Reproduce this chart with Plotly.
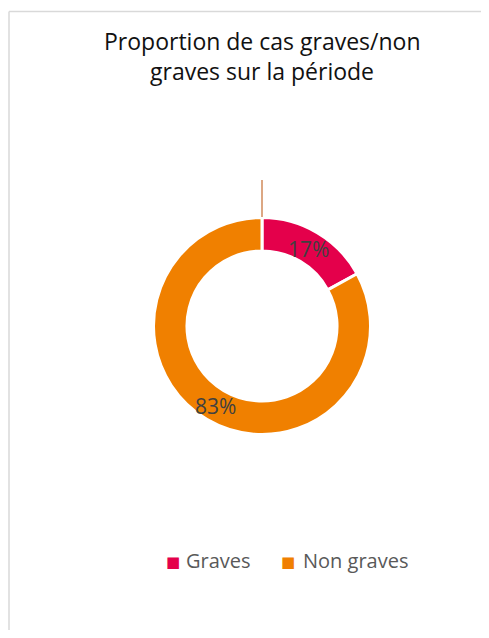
import math
import plotly.graph_objects as go

categories = ["Graves", "Non graves"]
values = [17, 83]
colors = ["#E4004B", "#F08000"]
title_lines = ["Proportion de cas graves/non", "graves sur la période"]

# page has an 8px body margin; figure sized to fit the window without scrollbars
OFF = 8
W, H = 489 - 2 * OFF, 638 - 2 * OFF


def px(x):
    return (x - OFF) / W


def py(y):
    return 1 - (y - OFF) / H


# donut geometry (page pixels)
CX, CY, R_OUT, R_IN = 262, 326, 107, 74
HOLE = R_IN / R_OUT

fig = go.Figure()
fig.add_trace(go.Pie(
    labels=categories,
    values=values,
    hole=HOLE,
    sort=False,
    direction="clockwise",
    rotation=0,
    marker=dict(colors=colors, line=dict(color="white", width=3)),
    textinfo="none",
    domain=dict(x=[px(CX - R_OUT - 1.5), px(CX + R_OUT + 1.5)],
                y=[py(CY + R_OUT + 1.5), py(CY - R_OUT - 1.5)]),
    hoverinfo="skip",
    showlegend=False,
))

# percentage labels at the middle of each slice (computed from the values)
total = sum(values)
annotations = []
cum = 0
r_mid = (R_OUT + R_IN) / 2 + 1
for v in values:
    mid = (cum + v / 2) / total * 2 * math.pi
    cum += v
    lx = CX + r_mid * math.sin(mid)
    ly = CY - r_mid * math.cos(mid) + 1.5
    annotations.append(dict(
        x=px(lx), y=py(ly), xref="paper", yref="paper", showarrow=False,
        text=f"{round(v / total * 100)}%", xanchor="center", yanchor="middle",
        font=dict(family="Open Sans", size=21, color="#404040"),
    ))

# title (two lines)
for line, yc in zip(title_lines, [41, 71]):
    annotations.append(dict(
        x=px(262), y=py(yc), xref="paper", yref="paper", showarrow=False,
        text=line, xanchor="center", yanchor="middle",
        font=dict(family="Open Sans", size=23, color="#111111"),
    ))

# legend: square swatch + label
swatch_x = [172.5, 287.5]
label_x = [183.5, 300.5]
for name, col, sx, tx in zip(categories, colors, swatch_x, label_x):
    annotations.append(dict(
        x=px(sx), y=py(561.5), xref="paper", yref="paper", showarrow=False,
        text="■", xanchor="center", yanchor="middle",
        font=dict(family="DejaVu Sans", size=15, color=col),
    ))
    annotations.append(dict(
        x=px(tx), y=py(560), xref="paper", yref="paper", showarrow=False,
        text=name, xanchor="left", yanchor="middle",
        font=dict(family="Open Sans", size=20, color="#595959"),
    ))

fig.update_layout(
    width=W, height=H,
    margin=dict(l=0, r=0, t=0, b=0),
    paper_bgcolor="white",
    showlegend=False,
    annotations=annotations,
    shapes=[
        dict(type="line", xref="paper", yref="paper", x0=px(9), x1=px(9), y0=0, y1=py(11.5),
             line=dict(color="#D9D9D9", width=1.5)),
        dict(type="line", xref="paper", yref="paper", x0=px(9), x1=1, y0=py(11.5), y1=py(11.5),
             line=dict(color="#D9D9D9", width=1.5)),
        dict(type="line", xref="paper", yref="paper", x0=px(262), x1=px(262), y0=py(217), y1=py(180),
             line=dict(color="#D08A5A", width=1.5)),
    ],
)

fig.write_html("out.html")
